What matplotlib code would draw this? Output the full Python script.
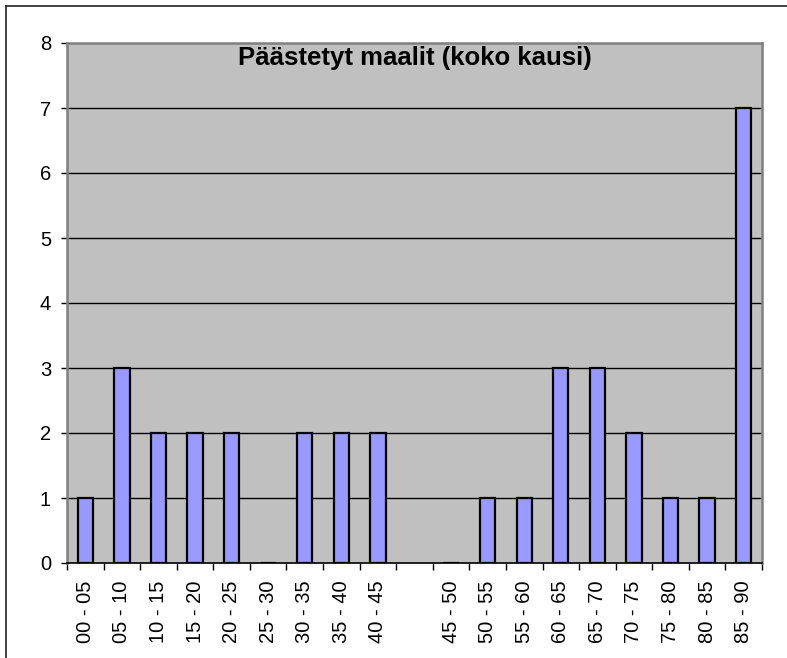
import numpy as np
import matplotlib
matplotlib.use("Agg")
import matplotlib.pyplot as plt
from matplotlib.lines import Line2D

# --- data ---
labels = ["00 - 05", "05 - 10", "10 - 15", "15 - 20", "20 - 25", "25 - 30",
          "30 - 35", "35 - 40", "40 - 45", "",
          "45 - 50", "50 - 55", "55 - 60", "60 - 65", "65 - 70", "70 - 75",
          "75 - 80", "80 - 85", "85 - 90"]
goals = [1, 3, 2, 2, 2, 0, 2, 2, 2, np.nan, 0, 1, 1, 3, 3, 2, 1, 1, 7]
yticks = [0, 1, 2, 3, 4, 5, 6, 7, 8]
title = "Päästetyt maalit (koko kausi)"

plt.rcParams['font.family'] = ['Liberation Sans', 'DejaVu Sans']

fig = plt.figure(figsize=(7.87, 6.58), dpi=100)
ax = fig.add_axes([67 / 787, 1 - 563 / 658, 695 / 787, 520 / 658])
ax.set_facecolor('#C0C0C0')

x = np.arange(len(labels))
ax.bar(x, goals, width=0.42, color='#9999FF', edgecolor='black',
       linewidth=1.6, zorder=3)

# horizontal gridlines
for y in yticks[1:-1]:
    ax.axhline(y, color='black', linewidth=1.0, zorder=1)

ax.set_xlim(-0.5, len(labels) - 0.5)
ax.set_ylim(0, 8)
ax.set_yticks(yticks)
ax.set_yticklabels([str(v) for v in yticks], fontsize=14.5)
ax.tick_params(axis='y', length=4.5, width=1, pad=7, color='black')

# labels at slot centres, tick marks at slot boundaries
ax.set_xticks(x)
ax.set_xticklabels(labels, rotation=90, fontsize=14.5)
ax.tick_params(axis='x', which='major', length=0, pad=12.5)
ax.set_xticks(np.arange(len(labels) + 1) - 0.5, minor=True)
ax.tick_params(axis='x', which='minor', length=5, width=1, color='black')

for side in ['top', 'right', 'left']:
    ax.spines[side].set_color('#808080')
    ax.spines[side].set_linewidth(1.8)
ax.spines['bottom'].set_color('black')
ax.spines['bottom'].set_linewidth(1.2)

ax.text(0.5, 0.9715, title, transform=ax.transAxes, ha='center',
        va='center', fontsize=18.5, fontweight='bold', zorder=5)

# outer chart border (runs off the image on the right/bottom)
fig.add_artist(Line2D([5.5 / 787, 5.5 / 787], [0, 1 - 5.5 / 658],
                      transform=fig.transFigure, color='#202020', linewidth=1.2))
fig.add_artist(Line2D([5.5 / 787, 1], [1 - 5.5 / 658, 1 - 5.5 / 658],
                      transform=fig.transFigure, color='#202020', linewidth=1.2))

fig.savefig('out.png', dpi=100)
